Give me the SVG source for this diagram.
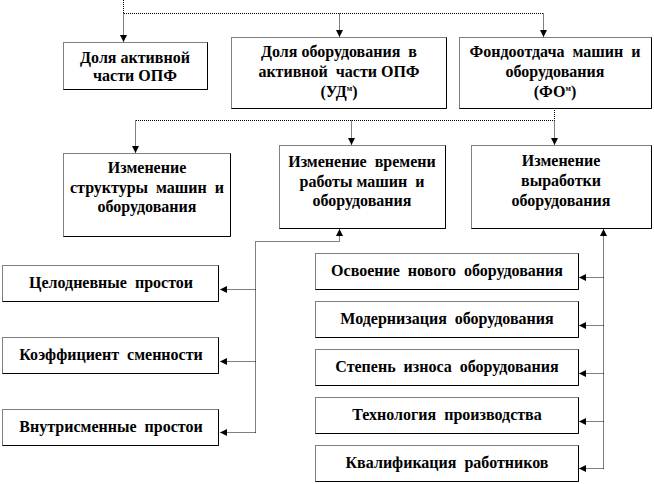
<svg xmlns="http://www.w3.org/2000/svg" width="654" height="484" viewBox="0 0 654 484">
<style>
.bx{fill:#fff;stroke:#000;stroke-width:1;stroke-dasharray:1 1}
.sd{fill:none;stroke:#000;stroke-width:1}
.cn{fill:none;stroke:#000;stroke-width:1;stroke-dasharray:1 1}
text{font-family:"Liberation Serif","DejaVu Serif","Times New Roman",serif;font-weight:bold;font-size:16px;text-anchor:middle;fill:#000;white-space:pre}
.sup{font-size:8px}
</style>
<defs>
<marker id="ah" viewBox="0 0 8 8" refX="8" refY="4" markerWidth="7" markerHeight="7" orient="auto" markerUnits="userSpaceOnUse">
<path d="M0,0 L8,4 L0,8 z" fill="#000"/>
</marker>
</defs>
<rect width="654" height="484" fill="#fff"/>
<g id="connectors">
<path class="cn" d="M123.5,0 V13.5 H543.5"/>
<path class="cn" d="M123.5,13.5 V42" marker-end="url(#ah)"/>
<path class="cn" d="M339.5,13.5 V37" marker-end="url(#ah)"/>
<path class="cn" d="M543.5,13.5 V37" marker-end="url(#ah)"/>
<path class="cn" d="M554.5,108 V120.5 H135.5"/>
<path class="cn" d="M135.5,120.5 V153" marker-end="url(#ah)"/>
<path class="cn" d="M351.5,120.5 V145" marker-end="url(#ah)"/>
<path class="cn" d="M554.5,120.5 V145" marker-end="url(#ah)"/>
<path class="cn" d="M255.5,432.5 V241.5 H339.5 V229" marker-end="url(#ah)"/>
<path class="cn" d="M255.5,289.5 H220" marker-end="url(#ah)"/>
<path class="cn" d="M255.5,361.5 H220" marker-end="url(#ah)"/>
<path class="cn" d="M255.5,432.5 H220" marker-end="url(#ah)"/>
<path class="cn" d="M603.5,468.5 V229" marker-end="url(#ah)"/>
<path class="cn" d="M603.5,277.5 H579" marker-end="url(#ah)"/>
<path class="cn" d="M603.5,325.5 H579" marker-end="url(#ah)"/>
<path class="cn" d="M603.5,373.5 H579" marker-end="url(#ah)"/>
<path class="cn" d="M603.5,421.5 H579" marker-end="url(#ah)"/>
<path class="cn" d="M603.5,468.5 H579" marker-end="url(#ah)"/>
</g>
<g id="n1">
<rect class="bx" x="63.5" y="42.5" width="144" height="47"/>
<path class="sd" d="M63.5,89.5 H207.5 V42.5" stroke="#666"/>
<text x="135" y="63">Доля активной</text>
<text x="135" y="81">части ОПФ</text>
</g>
<g id="n2">
<rect class="bx" x="231.5" y="37.5" width="215" height="71"/>
<path class="sd" d="M231.5,108.5 H446.5 V37.5"/>
<text x="339" y="57">Доля оборудования  в</text>
<text x="339" y="77">активной  части ОПФ</text>
<text x="339" y="97">(УД<tspan class="sup" dy="-6">м</tspan><tspan dy="6">)</tspan></text>
</g>
<g id="n3">
<rect class="bx" x="459.5" y="37.5" width="192" height="71"/>
<path class="sd" d="M459.5,108.5 H651.5 V37.5"/>
<text x="555" y="57">Фондоотдача  машин  и</text>
<text x="555" y="77">оборудования</text>
<text x="555" y="97">(ФО<tspan class="sup" dy="-6">м</tspan><tspan dy="6">)</tspan></text>
</g>
<g id="n4">
<rect class="bx" x="63.5" y="153.5" width="167" height="83"/>
<path class="sd" d="M63.5,236.5 H230.5 V153.5"/>
<text x="147" y="173">Изменение</text>
<text x="147" y="193">структуры  машин  и</text>
<text x="147" y="212">оборудования</text>
</g>
<g id="n5">
<rect class="bx" x="279.5" y="145.5" width="166" height="83"/>
<path class="sd" d="M279.5,228.5 H445.5 V145.5"/>
<text x="362" y="167">Изменение  времени</text>
<text x="362" y="187">работы машин  и</text>
<text x="362" y="206">оборудования</text>
</g>
<g id="n6">
<rect class="bx" x="471.5" y="145.5" width="180" height="83"/>
<path class="sd" d="M471.5,228.5 H651.5 V145.5"/>
<text x="561" y="166">Изменение</text>
<text x="561" y="186">выработки</text>
<text x="561" y="206">оборудования</text>
</g>
<g id="n7">
<rect class="bx" x="2.5" y="265.5" width="216" height="36"/>
<path class="sd" d="M2.5,301.5 H218.5 V265.5"/>
<text x="111" y="288">Целодневные  простои</text>
</g>
<g id="n8">
<rect class="bx" x="2.5" y="337.5" width="216" height="36"/>
<path class="sd" d="M2.5,373.5 H218.5 V337.5"/>
<text x="111" y="360">Коэффициент  сменности</text>
</g>
<g id="n9">
<rect class="bx" x="2.5" y="409.5" width="216" height="36"/>
<path class="sd" d="M2.5,445.5 H218.5 V409.5"/>
<text x="111" y="432">Внутрисменные  простои</text>
</g>
<g id="n10">
<rect class="bx" x="315.5" y="253.5" width="263" height="36"/>
<path class="sd" d="M315.5,289.5 H578.5 V253.5"/>
<text x="447" y="276">Освоение  нового  оборудования</text>
</g>
<g id="n11">
<rect class="bx" x="315.5" y="301.5" width="263" height="36"/>
<path class="sd" d="M315.5,337.5 H578.5 V301.5"/>
<text x="447" y="324">Модернизация  оборудования</text>
</g>
<g id="n12">
<rect class="bx" x="315.5" y="349.5" width="263" height="36"/>
<path class="sd" d="M315.5,385.5 H578.5 V349.5"/>
<text x="447" y="372">Степень  износа  оборудования</text>
</g>
<g id="n13">
<rect class="bx" x="315.5" y="397.5" width="263" height="36"/>
<path class="sd" d="M315.5,433.5 H578.5 V397.5"/>
<text x="447" y="420">Технология  производства</text>
</g>
<g id="n14">
<rect class="bx" x="315.5" y="445.5" width="263" height="36"/>
<path class="sd" d="M315.5,481.5 H578.5 V445.5"/>
<text x="447" y="468">Квалификация  работников</text>
</g>
</svg>
